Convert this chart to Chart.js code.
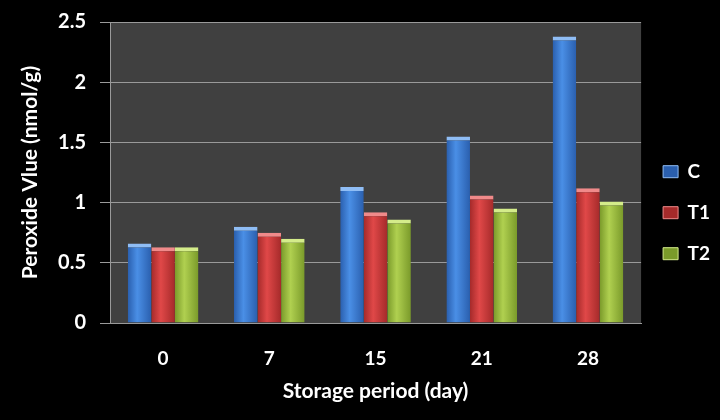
<!DOCTYPE html>
<html lang="en">
<head>
<meta charset="UTF-8">
<title>Peroxide value during storage</title>
<script src="https://cdn.jsdelivr.net/npm/chart.js@4.4.0/dist/chart.umd.min.js"></script>
<style>
  html, body { margin: 0; padding: 0; background: #000; }
</style>
</head>
<body>
<canvas id="myChart" width="720" height="420"></canvas>
<script>
// data
const days = ['0', '7', '15', '21', '28'];
const seriesNames = ['C', 'T1', 'T2'];
const valuesC  = [0.66, 0.80, 1.13, 1.55, 2.38];
const valuesT1 = [0.63, 0.75, 0.92, 1.06, 1.12];
const valuesT2 = [0.63, 0.70, 0.86, 0.95, 1.01];
const yTicks = [0, 0.5, 1, 1.5, 2, 2.5];

const catPct = 0.665;

// horizontal shading so the bars look like the rounded excel ones
function barFill(dark, light, flat) {
    return function (ctx) {
        if (ctx.type !== 'data') return flat;
        const chart = ctx.chart;
        const xs = chart.scales.x;
        if (!xs || !chart.chartArea) return flat;
        const catW = xs.width / days.length;
        const barW = catW * catPct / 3;
        const left = xs.getPixelForValue(ctx.dataIndex) - catW * catPct / 2 + ctx.datasetIndex * barW;
        const g = chart.ctx.createLinearGradient(left, 0, left + barW, 0);
        g.addColorStop(0, dark);
        g.addColorStop(0.4, light);
        g.addColorStop(1, dark);
        return g;
    };
}

function topCap(ctx) {
    return ctx.type === 'data' ? { top: 4, left: 0, right: 0, bottom: 0 } : 0;
}

const plotBg = {
    id: 'plotBg',
    beforeDraw(chart) {
        const { ctx, chartArea: a } = chart;
        ctx.save();
        ctx.fillStyle = '#404040';
        ctx.fillRect(a.left, a.top, a.right - a.left, a.bottom - a.top);
        ctx.restore();
    }
};

Chart.defaults.font.family = 'Lato, "Open Sans", sans-serif';
Chart.defaults.font.weight = 'bold';
Chart.defaults.color = '#ffffff';

const ctx = document.getElementById('myChart').getContext('2d');
const myChart = new Chart(ctx, {
    type: 'bar',
    data: {
        labels: days,
        datasets: [{
            label: seriesNames[0],
            data: valuesC,
            backgroundColor: barFill('#2a5fae', '#4a8fe6', '#3a78d0'),
            borderColor: '#8fbdf5',
            borderWidth: topCap,
            borderSkipped: false
        }, {
            label: seriesNames[1],
            data: valuesT1,
            backgroundColor: barFill('#a52a2a', '#e04848', '#cf3b3b'),
            borderColor: '#f08a8a',
            borderWidth: topCap,
            borderSkipped: false
        }, {
            label: seriesNames[2],
            data: valuesT2,
            backgroundColor: barFill('#7a9a2a', '#b0d050', '#9bbb40'),
            borderColor: '#d4ec8a',
            borderWidth: topCap,
            borderSkipped: false
        }]
    },
    options: {
        responsive: false,
        animation: false,
        datasets: {
            bar: { categoryPercentage: catPct, barPercentage: 1.0 }
        },
        layout: { padding: { top: 22, left: 6, right: 0, bottom: 8 } },
        plugins: {
            tooltip: { enabled: false },
            legend: {
                position: 'right',
                fullSize: false,
                title: { display: true, text: '', padding: { top: 33, bottom: 33 } },
                labels: {
                    boxWidth: 15,
                    boxHeight: 12,
                    padding: 22,
                    font: { size: 19, weight: 'bold' },
                    color: '#fff'
                }
            }
        },
        scales: {
            x: {
                grid: { display: false },
                border: { display: true, color: '#9a9a9a', width: 1 },
                ticks: { font: { size: 19 }, padding: 16, color: '#fff' },
                title: {
                    display: true,
                    text: 'Storage period (day)',
                    font: { size: 21, weight: 'bold' },
                    color: '#fff',
                    padding: { top: 4, bottom: 8 }
                },
                afterFit(scale) { scale.height = 89; }
            },
            y: {
                min: 0,
                max: 2.5,
                afterBuildTicks(scale) { scale.ticks = yTicks.map(v => ({ value: v })); },
                grid: { color: '#9a9a9a', lineWidth: 1, tickLength: 10 },
                border: { display: true, color: '#9a9a9a' },
                ticks: {
                    font: { size: 20 },
                    padding: 14,
                    color: '#fff',
                    callback: v => String(v)
                },
                title: {
                    display: true,
                    text: 'Peroxide Vlue (nmol/g)',
                    font: { size: 21, weight: 'bold' },
                    color: '#fff',
                    padding: 12
                },
                afterFit(scale) {
                    scale.width = 104;
                    scale.paddingTop = 0;
                    scale.paddingBottom = 0;
                }
            }
        }
    },
    plugins: [plotBg]
});
</script>
</body>
</html>
